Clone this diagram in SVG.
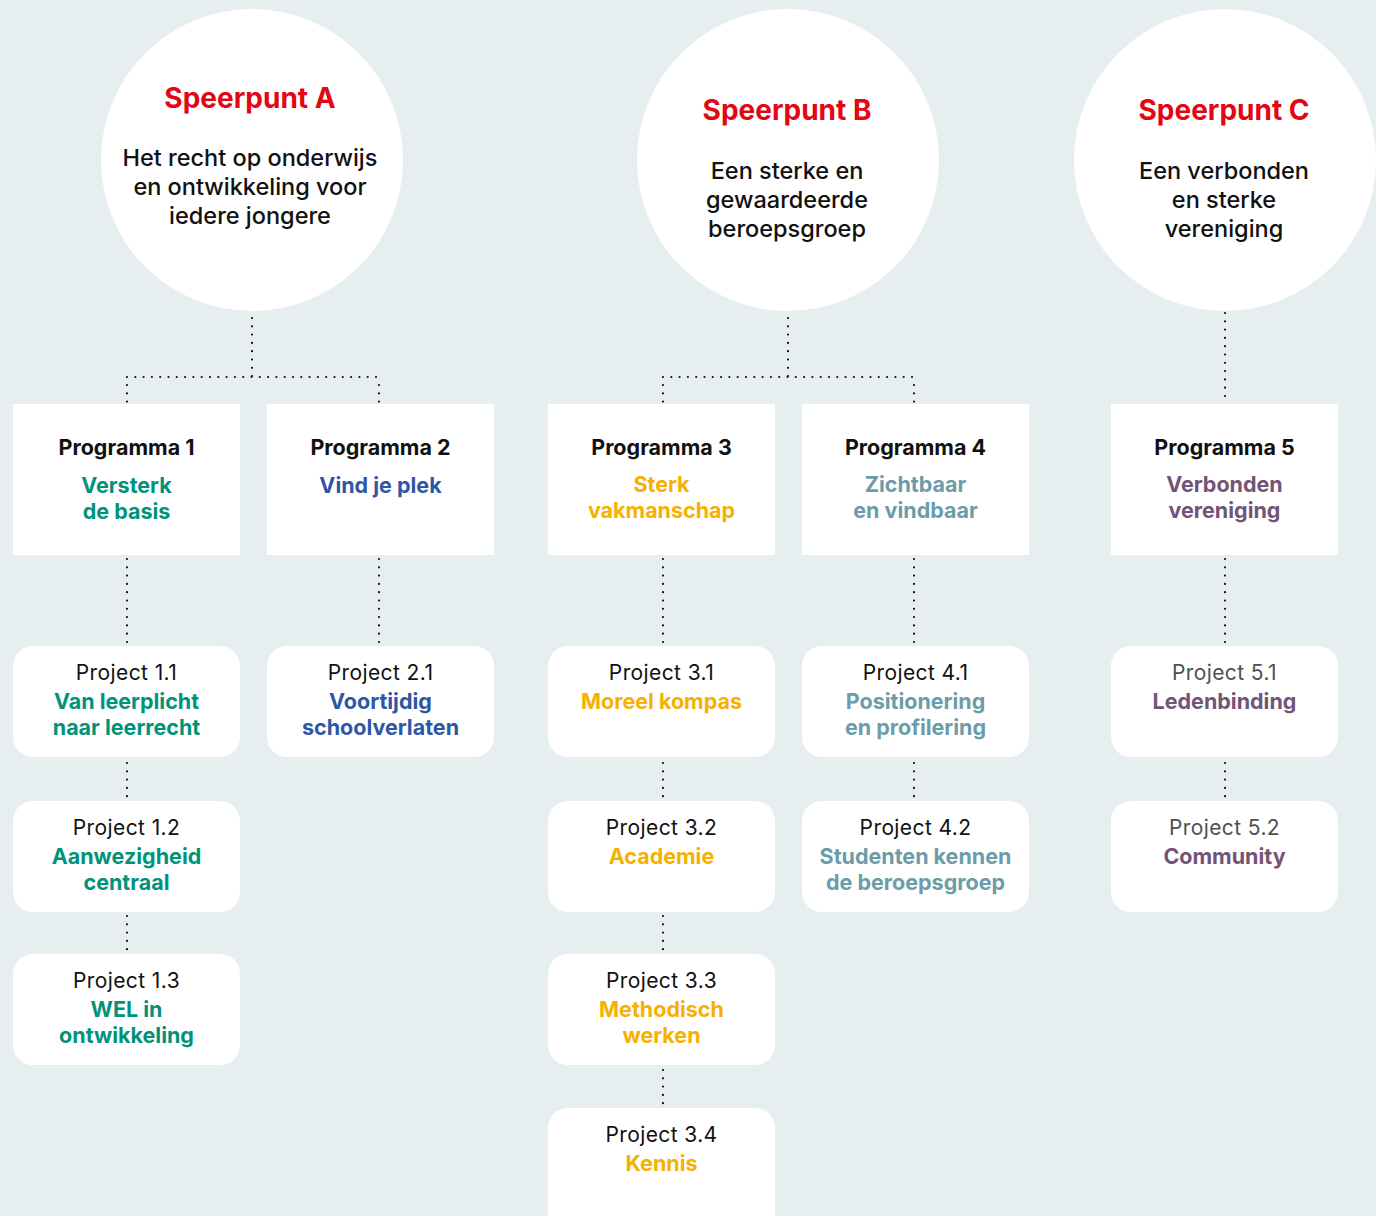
<svg xmlns="http://www.w3.org/2000/svg" width="1376" height="1216" viewBox="0 0 1376 1216">
<style>
text{font-family:Inter,"Noto Sans","Liberation Sans",sans-serif;text-anchor:middle}
.circ{fill:#fff}
.prog{fill:#fff}
.proj{fill:#fff}
.sp{font-size:28px;font-weight:700;fill:#e30613}
.body{font-size:23.5px;font-weight:500;fill:#111}
.ph{font-size:21.5px;font-weight:700;fill:#111}
.pt{font-size:21.5px;font-weight:700}
.jh{font-size:21px;font-weight:400;fill:#111;letter-spacing:0.4px}
.jh5{fill:#505050}
.green{fill:#00937a}
.blue{fill:#2f56a6}
.yellow{fill:#f8b000}
.teal{fill:#6b9ca8}
.purple{fill:#735376}
.dot{fill:none;stroke:#111;stroke-width:2.2;stroke-linecap:round;stroke-dasharray:0 8.3}
</style>
<rect width="1376" height="1216" fill="#e6eef0"/>
<g id="connectors">
<path class="dot" d="M252 318V377M127 377H379M127 385V402M379 385V402"/>
<path class="dot" d="M788 318V377M663 377H914M663 385V402M914 385V402"/>
<path class="dot" d="M1225 313V403"/>
<path class="dot" d="M127 559V643M379 559V643M663 559V643M914 559V643M1225 559V643"/>
<path class="dot" d="M127 763V798M663 763V798M914 763V798M1225 763V798"/>
<path class="dot" d="M127 916V950M663 916V950"/>
<path class="dot" d="M663 1070V1105"/>
</g>
<g id="speerpuntA">
<circle class="circ" cx="252" cy="160" r="151"/>
<text class="sp" x="250" y="108">Speerpunt A</text>
<text class="body" x="250" y="166">Het recht op onderwijs</text>
<text class="body" x="250" y="195">en ontwikkeling voor</text>
<text class="body" x="250" y="224">iedere jongere</text>
</g>
<g id="speerpuntB">
<circle class="circ" cx="788" cy="160" r="151"/>
<text class="sp" x="787" y="120">Speerpunt B</text>
<text class="body" x="787" y="179">Een sterke en</text>
<text class="body" x="787" y="208">gewaardeerde</text>
<text class="body" x="787" y="237">beroepsgroep</text>
</g>
<g id="speerpuntC">
<circle class="circ" cx="1225" cy="160" r="151"/>
<text class="sp" x="1224" y="120">Speerpunt C</text>
<text class="body" x="1224" y="179">Een verbonden</text>
<text class="body" x="1224" y="208">en sterke</text>
<text class="body" x="1224" y="237">vereniging</text>
</g>
<g id="programma1">
<rect class="prog" x="13" y="404" width="227" height="151"/>
<text class="ph" x="126.5" y="455">Programma 1</text>
<text class="pt green" x="126.5" y="493">Versterk</text>
<text class="pt green" x="126.5" y="519">de basis</text>
</g>
<g id="programma2">
<rect class="prog" x="267" y="404" width="227" height="151"/>
<text class="ph" x="380.5" y="455">Programma 2</text>
<text class="pt blue" x="380.5" y="493">Vind je plek</text>
</g>
<g id="programma3">
<rect class="prog" x="548" y="404" width="227" height="151"/>
<text class="ph" x="661.5" y="455">Programma 3</text>
<text class="pt yellow" x="661.5" y="492">Sterk</text>
<text class="pt yellow" x="661.5" y="518">vakmanschap</text>
</g>
<g id="programma4">
<rect class="prog" x="802" y="404" width="227" height="151"/>
<text class="ph" x="915.5" y="455">Programma 4</text>
<text class="pt teal" x="915.5" y="492">Zichtbaar</text>
<text class="pt teal" x="915.5" y="518">en vindbaar</text>
</g>
<g id="programma5">
<rect class="prog" x="1111" y="404" width="227" height="151"/>
<text class="ph" x="1224.5" y="455">Programma 5</text>
<text class="pt purple" x="1224.5" y="492">Verbonden</text>
<text class="pt purple" x="1224.5" y="518">vereniging</text>
</g>
<g id="project11">
<rect class="proj" x="13" y="646" width="227" height="111" rx="20"/>
<text class="jh" x="126.5" y="680">Project 1.1</text>
<text class="pt green" x="126.5" y="709">Van leerplicht</text>
<text class="pt green" x="126.5" y="735">naar leerrecht</text>
</g>
<g id="project12">
<rect class="proj" x="13" y="801" width="227" height="111" rx="20"/>
<text class="jh" x="126.5" y="835">Project 1.2</text>
<text class="pt green" x="126.5" y="864">Aanwezigheid</text>
<text class="pt green" x="126.5" y="890">centraal</text>
</g>
<g id="project13">
<rect class="proj" x="13" y="954" width="227" height="111" rx="20"/>
<text class="jh" x="126.5" y="988">Project 1.3</text>
<text class="pt green" x="126.5" y="1017">WEL in</text>
<text class="pt green" x="126.5" y="1043">ontwikkeling</text>
</g>
<g id="project21">
<rect class="proj" x="267" y="646" width="227" height="111" rx="20"/>
<text class="jh" x="380.5" y="680">Project 2.1</text>
<text class="pt blue" x="380.5" y="709">Voortijdig</text>
<text class="pt blue" x="380.5" y="735">schoolverlaten</text>
</g>
<g id="project31">
<rect class="proj" x="548" y="646" width="227" height="111" rx="20"/>
<text class="jh" x="661.5" y="680">Project 3.1</text>
<text class="pt yellow" x="661.5" y="709">Moreel kompas</text>
</g>
<g id="project32">
<rect class="proj" x="548" y="801" width="227" height="111" rx="20"/>
<text class="jh" x="661.5" y="835">Project 3.2</text>
<text class="pt yellow" x="661.5" y="864">Academie</text>
</g>
<g id="project33">
<rect class="proj" x="548" y="954" width="227" height="111" rx="20"/>
<text class="jh" x="661.5" y="988">Project 3.3</text>
<text class="pt yellow" x="661.5" y="1017">Methodisch</text>
<text class="pt yellow" x="661.5" y="1043">werken</text>
</g>
<g id="project34">
<rect class="proj" x="548" y="1108" width="227" height="130" rx="20"/>
<text class="jh" x="661.5" y="1142">Project 3.4</text>
<text class="pt yellow" x="661.5" y="1171">Kennis</text>
</g>
<g id="project41">
<rect class="proj" x="802" y="646" width="227" height="111" rx="20"/>
<text class="jh" x="915.5" y="680">Project 4.1</text>
<text class="pt teal" x="915.5" y="709">Positionering</text>
<text class="pt teal" x="915.5" y="735">en profilering</text>
</g>
<g id="project42">
<rect class="proj" x="802" y="801" width="227" height="111" rx="20"/>
<text class="jh" x="915.5" y="835">Project 4.2</text>
<text class="pt teal" x="915.5" y="864">Studenten kennen</text>
<text class="pt teal" x="915.5" y="890">de beroepsgroep</text>
</g>
<g id="project51">
<rect class="proj" x="1111" y="646" width="227" height="111" rx="20"/>
<text class="jh jh5" x="1224.5" y="680">Project 5.1</text>
<text class="pt purple" x="1224.5" y="709">Ledenbinding</text>
</g>
<g id="project52">
<rect class="proj" x="1111" y="801" width="227" height="111" rx="20"/>
<text class="jh jh5" x="1224.5" y="835">Project 5.2</text>
<text class="pt purple" x="1224.5" y="864">Community</text>
</g>
</svg>
